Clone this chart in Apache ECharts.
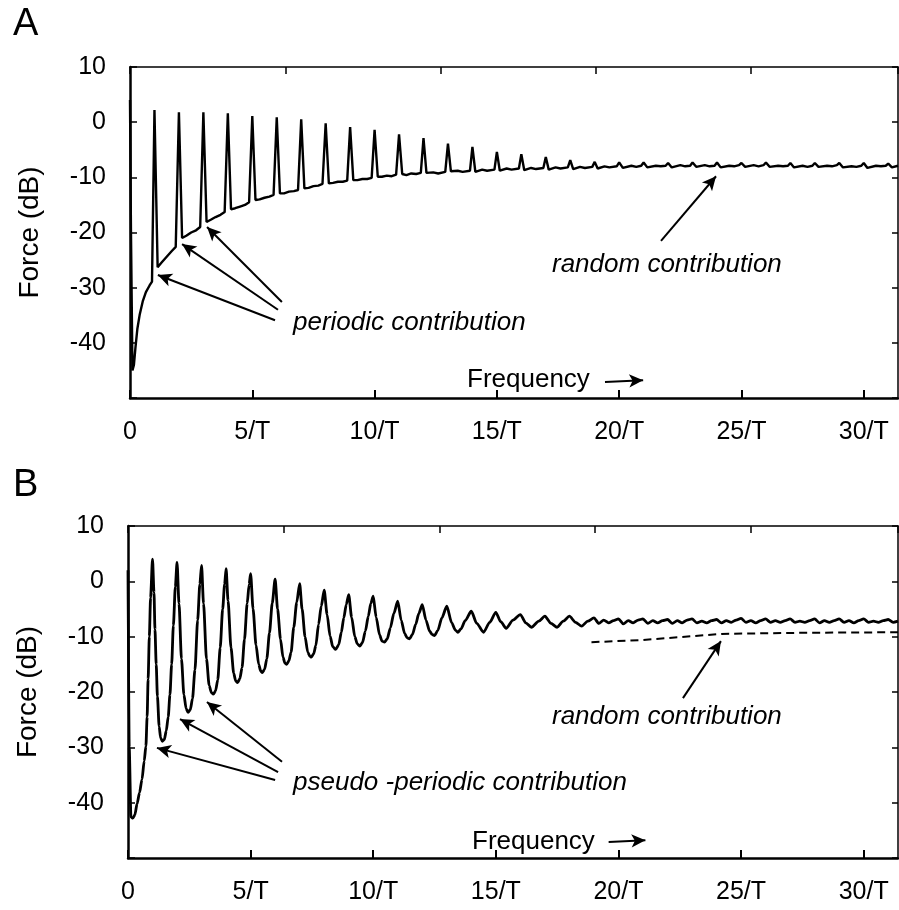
<!DOCTYPE html>
<html>
<head>
<meta charset="utf-8">
<script src="https://cdn.jsdelivr.net/npm/echarts@6/dist/echarts.min.js"></script>
<style>html,body{margin:0;padding:0;background:#fff}#c{width:899px;height:910px}</style>
</head>
<body>
<div id="c"></div>
<script>
// ---- data (frequency in units of 1/T, force in dB) ----
const xTickLabels = ['0', '5/T', '10/T', '15/T', '20/T', '25/T', '30/T'];
const yTickValues = [-40, -30, -20, -10, 0, 10];

const spectrumA = [
  [0, 4], [0.04, -20], [0.1, -45], [0.16, -44], [0.22, -41], [0.3, -37.5], [0.4, -34.8], [0.52, -32.5], [0.65, -30.8], [0.8, -29.6], [0.9, -28.9],
  [1.0, 2.2], [1.13, -26.3], [1.3, -25.4], [1.5, -24.4], [1.7, -23.4], [1.87, -22.6],
  [2.0, 1.8], [2.13, -21.0], [2.3, -20.6], [2.5, -20.0], [2.7, -19.6], [2.87, -19.0],
  [3.0, 1.8], [3.13, -18.1], [3.3, -17.7], [3.5, -17.2], [3.7, -16.8], [3.87, -16.3],
  [4.0, 1.6], [4.13, -15.8], [4.3, -15.6], [4.5, -15.3], [4.7, -15.0], [4.87, -14.5],
  [5.0, 1.1], [5.13, -14.1], [5.3, -14.0], [5.5, -13.7], [5.7, -13.5], [5.87, -13.2],
  [6.0, 0.9], [6.13, -12.9], [6.3, -12.9], [6.5, -12.6], [6.7, -12.5], [6.87, -12.3],
  [7.0, 0.5], [7.13, -12.0], [7.3, -11.9], [7.5, -11.6], [7.7, -11.5], [7.87, -11.2],
  [8.0, -0.2], [8.13, -11.1], [8.3, -11.0], [8.5, -10.8], [8.7, -10.8], [8.88, -10.6],
  [9.0, -0.9], [9.13, -10.5], [9.3, -10.5], [9.5, -10.3], [9.7, -10.3], [9.88, -10.1],
  [10.0, -1.4], [10.13, -9.9], [10.3, -9.9], [10.5, -9.7], [10.7, -9.8], [10.88, -9.5],
  [11.0, -2.2], [11.13, -9.4], [11.3, -9.6], [11.5, -9.3], [11.7, -9.4], [11.89, -9.2],
  [12.0, -2.9], [12.12, -9.2], [12.4, -9.1], [12.6, -9.3], [12.89, -9.0],
  [13.0, -3.9], [13.12, -8.9], [13.4, -8.8], [13.6, -9.0], [13.9, -8.8],
  [14.0, -4.5], [14.12, -9.0], [14.4, -8.6], [14.6, -8.8], [14.9, -8.6],
  [15.0, -5.4], [15.12, -8.8], [15.4, -8.4], [15.6, -8.6], [15.9, -8.4],
  [16.0, -5.8], [16.12, -8.7], [16.4, -8.3], [16.6, -8.5], [16.9, -8.3],
  [17.0, -6.3], [17.12, -8.6], [17.4, -8.2], [17.6, -8.4], [17.9, -8.2],
  [18.0, -6.9], [18.12, -8.5], [18.4, -8.1], [18.6, -8.3], [18.9, -8.1],
  [19.0, -7.2], [19.12, -8.4], [19.4, -8.0], [19.6, -8.2], [19.9, -8.0],
  [20.0, -7.3], [20.15, -8.3], [20.5, -7.9], [20.7, -8.1], [20.9, -7.9],
  [21.0, -7.3], [21.15, -8.2], [21.5, -7.9], [21.7, -8.0], [21.9, -7.9],
  [22.0, -7.4], [22.15, -8.2], [22.5, -7.8], [22.7, -8.0], [22.9, -7.9],
  [23.0, -7.3], [23.15, -8.1], [23.5, -7.8], [23.7, -8.0], [23.9, -7.9],
  [24.0, -7.3], [24.15, -8.2], [24.5, -7.9], [24.7, -8.0], [24.9, -7.8],
  [25.0, -7.4], [25.15, -8.1], [25.5, -7.8], [25.7, -8.0], [25.9, -7.8],
  [26.0, -7.3], [26.15, -8.1], [26.5, -7.9], [26.7, -8.0], [26.9, -7.9],
  [27.0, -7.4], [27.15, -8.2], [27.5, -7.9], [27.7, -8.1], [27.9, -7.9],
  [28.0, -7.4], [28.15, -8.1], [28.5, -7.9], [28.7, -8.0], [28.9, -7.8],
  [29.0, -7.4], [29.15, -8.2], [29.5, -8.0], [29.7, -8.1], [29.9, -7.9],
  [30.0, -7.4], [30.15, -8.3], [30.5, -7.9], [30.7, -8.0], [30.9, -7.9],
  [31.0, -7.5], [31.15, -8.2], [31.4, -7.9]
];

const spectrumB = [
  [0, 2], [0.05, -30], [0.12, -42.6], [0.2, -42.8], [0.28, -42.2], [0.37, -40.2], [0.47, -38.2], [0.57, -35.8], [0.66, -32.5], [0.73, -29.8], [0.78, -24.5], [0.82, -17.7], [0.87, -10], [0.92, -3], [1.0, 4.0],
  [1.06, -2], [1.1, -8.7], [1.15, -15], [1.2, -20.8], [1.27, -26.2], [1.33, -28.3], [1.4, -28.9], [1.48, -28.6], [1.56, -27.0], [1.64, -24.5], [1.71, -20.5], [1.78, -15], [1.85, -8], [1.93, -1], [2.0, 3.4],
  [2.08, -4], [2.18, -14], [2.28, -20.5], [2.37, -23.0], [2.45, -23.7], [2.54, -23.2], [2.63, -21.2], [2.73, -16], [2.84, -7], [2.93, -0.5], [3.0, 2.9],
  [3.08, -4], [3.2, -14], [3.31, -18.8], [3.4, -20.1], [3.48, -20.4], [3.57, -19.8], [3.66, -17.8], [3.76, -12], [3.86, -5], [3.94, -0.5], [4.0, 2.3],
  [4.08, -3.5], [4.2, -12], [4.31, -16.6], [4.39, -18.0], [4.47, -18.3], [4.56, -17.6], [4.65, -15.6], [4.75, -10.5], [4.86, -4], [4.94, -0.5], [5.0, 1.4],
  [5.1, -5], [5.22, -11.5], [5.33, -15.0], [5.41, -16.2], [5.48, -16.5], [5.57, -15.9], [5.66, -14.0], [5.77, -9.3], [5.88, -4], [6.0, 0.4],
  [6.1, -5], [6.22, -10.5], [6.32, -13.7], [6.4, -14.8], [6.47, -15.0], [6.56, -14.4], [6.65, -12.8], [6.76, -8.3], [6.88, -3.8], [7.0, -0.4],
  [7.1, -5], [7.22, -10], [7.33, -12.8], [7.41, -13.5], [7.48, -13.7], [7.57, -13.1], [7.66, -11.6], [7.77, -7.8], [7.88, -4.5], [8.0, -1.6],
  [8.12, -6], [8.24, -9.9], [8.35, -11.8], [8.47, -12.3], [8.59, -11.5], [8.7, -9.2], [8.8, -6.6], [8.9, -4.2], [9.0, -2.4],
  [9.12, -6.5], [9.25, -10], [9.35, -11.3], [9.45, -11.7], [9.56, -11.1], [9.68, -9.0], [9.8, -6.3], [9.9, -4], [10.0, -2.7],
  [10.12, -6.5], [10.26, -9.7], [10.36, -10.8], [10.46, -11.0], [10.57, -10.4], [10.7, -8.4], [10.84, -5.8], [11.0, -3.6],
  [11.14, -7], [11.28, -9.4], [11.38, -10.2], [11.48, -10.4], [11.6, -9.6], [11.73, -7.8], [11.86, -5.8], [12.0, -4.2],
  [12.15, -7], [12.3, -9], [12.4, -9.6], [12.5, -9.8], [12.63, -8.9], [12.8, -6.6], [13.0, -4.5],
  [13.2, -7.5], [13.35, -8.8], [13.45, -9.2], [13.58, -8.6], [13.75, -7.1], [14.0, -5.4],
  [14.22, -7.6], [14.5, -9.2], [14.75, -7.4], [15.0, -5.6],
  [15.2, -7.3], [15.42, -8.5], [15.7, -7.0], [16.0, -6.0],
  [16.22, -7.5], [16.45, -8.3], [16.75, -7.2], [17.0, -6.3],
  [17.25, -7.6], [17.5, -8.3], [17.75, -7.2], [18.0, -6.3],
  [18.25, -7.4], [18.5, -8.1], [18.75, -7.2], [19.0, -6.6],
  [19.2, -7.6], [19.4, -7.0], [19.6, -7.5], [19.8, -7.1], [20.0, -6.8], [20.2, -7.7], [20.4, -7.1], [20.6, -7.5], [20.8, -7.0],
  [21.0, -6.8], [21.2, -7.6], [21.4, -7.1], [21.6, -7.5], [21.8, -7.1], [22.0, -6.9], [22.2, -7.6], [22.4, -7.1], [22.6, -7.5], [22.8, -7.0],
  [23.0, -6.8], [23.2, -7.5], [23.4, -7.2], [23.6, -7.5], [23.8, -7.1], [24.0, -6.9], [24.2, -7.5], [24.4, -7.1], [24.6, -7.4], [24.8, -7.0],
  [25.0, -6.7], [25.2, -7.4], [25.4, -7.1], [25.6, -7.5], [25.8, -7.1], [26.0, -6.8], [26.2, -7.4], [26.4, -7.1], [26.6, -7.4], [26.8, -7.1],
  [27.0, -6.8], [27.2, -7.4], [27.4, -7.2], [27.6, -7.4], [27.8, -7.1], [28.0, -6.8], [28.2, -7.5], [28.4, -7.1], [28.6, -7.4], [28.8, -7.1],
  [29.0, -6.8], [29.2, -7.4], [29.4, -7.1], [29.6, -7.5], [29.8, -7.1], [30.0, -6.8], [30.2, -7.4], [30.4, -7.2], [30.6, -7.4], [30.8, -7.1],
  [31.0, -6.9], [31.2, -7.4], [31.4, -7.2]
];

const randomB = [[18.9, -11.0], [21.0, -10.6], [24.2, -9.5], [27.5, -9.3], [31.4, -9.2]];

// annotation arrows: [from, to] in data coordinates
const arrowsA = [
  [[6.21, -32.6], [3.15, -19.0]],
  [[6.05, -34.0], [2.13, -22.1]],
  [[5.93, -35.9], [1.14, -27.7]],
  [[21.71, -21.5], [23.96, -9.8]],
  [[19.42, -47.1], [20.98, -46.8]]
];
const arrowsB = [
  [[6.28, -32.6], [3.22, -21.8]],
  [[6.12, -34.5], [2.12, -24.9]],
  [[6.0, -35.9], [1.18, -30.1]],
  [[22.63, -21.1], [24.18, -10.8]],
  [[19.6, -47.1], [21.1, -46.8]]
];

const FONT = '"Liberation Sans", Arial, Helvetica, sans-serif';

function xAxes(grid) {
  return [
    {
      gridIndex: grid, type: 'value', position: 'bottom', min: 0, max: 31.4, interval: 5,
      axisLine: { onZero: false, lineStyle: { color: '#000', width: 2.5 } },
      axisTick: { inside: true, length: 8, lineStyle: { color: '#000', width: 2 } },
      axisLabel: {
        color: '#000', fontSize: 25, fontFamily: FONT, margin: 22, showMaxLabel: false,
        formatter: v => (Math.abs(v % 5) < 1e-6 ? xTickLabels[Math.round(v / 5)] || '' : '')
      },
      splitLine: { show: false }
    },
    {
      gridIndex: grid, type: 'value', position: 'top', min: 0, max: 31.4, interval: 6.35,
      axisLine: { onZero: false, lineStyle: { color: '#000', width: 1.5 } },
      axisTick: { inside: true, length: 7, lineStyle: { color: '#000', width: 1.5 } },
      axisLabel: { show: false }, splitLine: { show: false }
    }
  ];
}
function yAxes(grid) {
  return [
    {
      gridIndex: grid, type: 'value', position: 'left', min: -50, max: 10, interval: 10,
      name: 'Force (dB)', nameLocation: 'middle', nameGap: 86,
      nameTextStyle: { color: '#000', fontSize: 28, fontFamily: FONT },
      axisLine: { onZero: false, lineStyle: { color: '#000', width: 2.5 } },
      axisTick: { inside: true, length: 7, lineStyle: { color: '#000', width: 1.5 } },
      axisLabel: {
        color: '#000', fontSize: 25, fontFamily: FONT, margin: 24,
        formatter: v => (yTickValues.indexOf(v) >= 0 ? String(v) : '')
      },
      splitLine: { show: false }
    },
    {
      gridIndex: grid, type: 'value', position: 'right', min: -50, max: 10, interval: 10,
      axisLine: { onZero: false, lineStyle: { color: '#000', width: 1.5 } },
      axisTick: { inside: true, length: 6, lineStyle: { color: '#000', width: 1.5 } },
      axisLabel: { show: false }, splitLine: { show: false }
    }
  ];
}
function arrowLines(list) {
  return {
    silent: true, symbol: ['none', 'arrow'], symbolSize: [10, 14], precision: 3,
    label: { show: false },
    lineStyle: { color: '#000', width: 2, type: 'solid' },
    emphasis: { disabled: true },
    data: list.map(a => [{ coord: a[0] }, { coord: a[1] }])
  };
}

const chart = echarts.init(document.getElementById('c'), null, { renderer: 'canvas' });
const text = (t, x, y, size, italic) => ({
  type: 'text', x: x, y: y,
  style: { text: t, fill: '#000', fontSize: size, fontFamily: FONT, fontStyle: italic ? 'italic' : 'normal', textVerticalAlign: 'middle', textAlign: 'left' }
});

chart.setOption({
  animation: false,
  backgroundColor: '#fff',
  grid: [
    { left: 130, top: 67, width: 768, height: 331 },
    { left: 128, top: 526, width: 770, height: 332 }
  ],
  xAxis: xAxes(0).concat(xAxes(1)),
  yAxis: yAxes(0).concat(yAxes(1)),
  series: [
    {
      type: 'line', xAxisIndex: 0, yAxisIndex: 0, data: spectrumA, showSymbol: false, symbol: 'none',
      lineStyle: { color: '#000', width: 2.4 }, markLine: arrowLines(arrowsA)
    },
    {
      type: 'line', xAxisIndex: 2, yAxisIndex: 2, data: spectrumB, showSymbol: false, symbol: 'none',
      smooth: 0.25, smoothMonotone: 'x',
      lineStyle: { color: '#000', width: 2.8 }, markLine: arrowLines(arrowsB)
    },
    {
      type: 'line', xAxisIndex: 2, yAxisIndex: 2, data: randomB, showSymbol: false, symbol: 'none',
      lineStyle: { color: '#000', width: 2, type: [8, 5] }
    }
  ],
  graphic: [
    text('A', 13, 25, 38, false),
    text('B', 13, 486, 38, false),
    text('periodic contribution', 293, 323, 26, true),
    text('random contribution', 552, 265, 26, true),
    text('Frequency', 467, 380, 26, false),
    text('pseudo -periodic contribution', 293, 783, 26, true),
    text('random contribution', 552, 717, 26, true),
    text('Frequency', 472, 842, 26, false)
  ]
});
</script>
</body>
</html>
